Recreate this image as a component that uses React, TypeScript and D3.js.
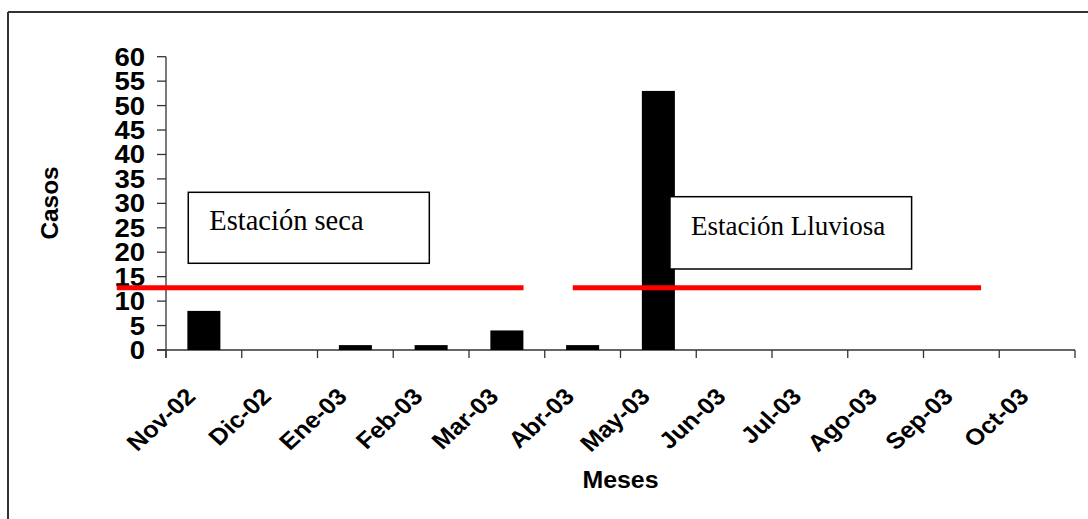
import React from "react";
import * as d3 from "d3";

const months = ["Nov-02","Dic-02","Ene-03","Feb-03","Mar-03","Abr-03","May-03","Jun-03","Jul-03","Ago-03","Sep-03","Oct-03"];
const casos = [8, 0, 1, 1, 4, 1, 53, 0, 0, 0, 0, 0];
const yTicks = [0,5,10,15,20,25,30,35,40,45,50,55,60];
const redLineValue = 12.75;
// season lines, in month-index units
const seasonLines = [
  { from: -0.65, to: 4.72 },
  { from: 5.37, to: 10.76 },
];
const seasonBoxes = [
  { label: "Estación seca", x0: 0.294, x1: 3.476, yTop: 32.26, yBot: 17.74, size: 28.5 },
  { label: "Estación Lluviosa", x0: 6.653, x1: 9.843, yTop: 31.36, yBot: 16.57, size: 27 },
];

export default function App() {
  const W = 1088, H = 519;
  const left = 166, right = 1075, top = 56.7, bottom = 350;
  const x = d3.scaleBand<string>().domain(months).range([left, right]).padding(0);
  const xi = d3.scaleLinear().domain([0, months.length]).range([left, right]);
  const y = d3.scaleLinear().domain([0, 60]).range([bottom, top]);
  const bw = x.bandwidth();
  const barW = bw * 0.436;
  const axisColor = "#333";
  const sans = "'Liberation Sans', Arial, sans-serif";
  const serif = "'Liberation Serif', 'Times New Roman', serif";

  return (
    <svg width={W} height={H} style={{ position: "absolute", left: 0, top: 0, background: "#fff" }}>
      <rect x={0} y={0} width={W} height={H} fill="#fff" />
      {/* outer frame */}
      <line x1={8} y1={12} x2={W} y2={12} stroke={axisColor} strokeWidth={2} />
      <line x1={8} y1={12} x2={8} y2={H} stroke={axisColor} strokeWidth={2} />

      {/* y axis */}
      <line x1={left} y1={top} x2={left} y2={bottom + 8} stroke={axisColor} strokeWidth={1.3} />
      {yTicks.map((t) => (
        <g key={t}>
          <line x1={left - 9} x2={left} y1={y(t)} y2={y(t)} stroke={axisColor} strokeWidth={1.3} />
          <g transform={`translate(${left - 21},${y(t)}) scale(1.1,1)`}>
            <text textAnchor="end" dy="0.36em" fontFamily={sans} fontWeight="bold" fontSize={25} fill="#000">{t}</text>
          </g>
        </g>
      ))}

      {/* x axis */}
      <line x1={left - 9} y1={bottom} x2={right} y2={bottom} stroke={axisColor} strokeWidth={1.3} />
      {d3.range(months.length + 1).map((i) => (
        <line key={i} x1={xi(i)} x2={xi(i)} y1={bottom} y2={bottom + 8} stroke={axisColor} strokeWidth={1.3} />
      ))}

      {/* bars */}
      {months.map((m, i) => (
        casos[i] > 0 ? (
          <rect key={m} x={(x(m) as number) + (bw - barW) / 2} y={y(casos[i])} width={barW} height={bottom - y(casos[i])} fill="#000" />
        ) : null
      ))}

      {/* red season lines */}
      {seasonLines.map((l, i) => (
        <line key={i} x1={xi(l.from)} x2={xi(l.to)} y1={y(redLineValue)} y2={y(redLineValue)} stroke="#ff0000" strokeWidth={5} />
      ))}

      {/* season boxes */}
      {seasonBoxes.map((b, i) => (
        <g key={i}>
          <rect x={xi(b.x0)} y={y(b.yTop)} width={xi(b.x1) - xi(b.x0)} height={y(b.yBot) - y(b.yTop)} fill="#fff" stroke="#000" strokeWidth={1.5} />
          <text x={xi(b.x0) + 21} y={y(b.yTop) + 38} fontFamily={serif} fontSize={b.size} fill="#000">{b.label}</text>
        </g>
      ))}

      {/* x labels */}
      {months.map((m) => (
        <g key={m} transform={`translate(${(x(m) as number) + bw / 2 - 7},${398}) scale(1.1,1) rotate(-45)`}>
          <text textAnchor="end" fontFamily={sans} fontWeight="bold" fontSize={23} fill="#000">{m}</text>
        </g>
      ))}

      {/* axis titles */}
      <g transform={`translate(${620.5},${488}) scale(1.06,1)`}>
        <text textAnchor="middle" fontFamily={sans} fontWeight="bold" fontSize={23.5} fill="#000">Meses</text>
      </g>
      <g transform={`translate(${58},${203}) rotate(-90)`}>
        <text textAnchor="middle" fontFamily={sans} fontWeight="bold" fontSize={24.4} fill="#000">Casos</text>
      </g>
    </svg>
  );
}
